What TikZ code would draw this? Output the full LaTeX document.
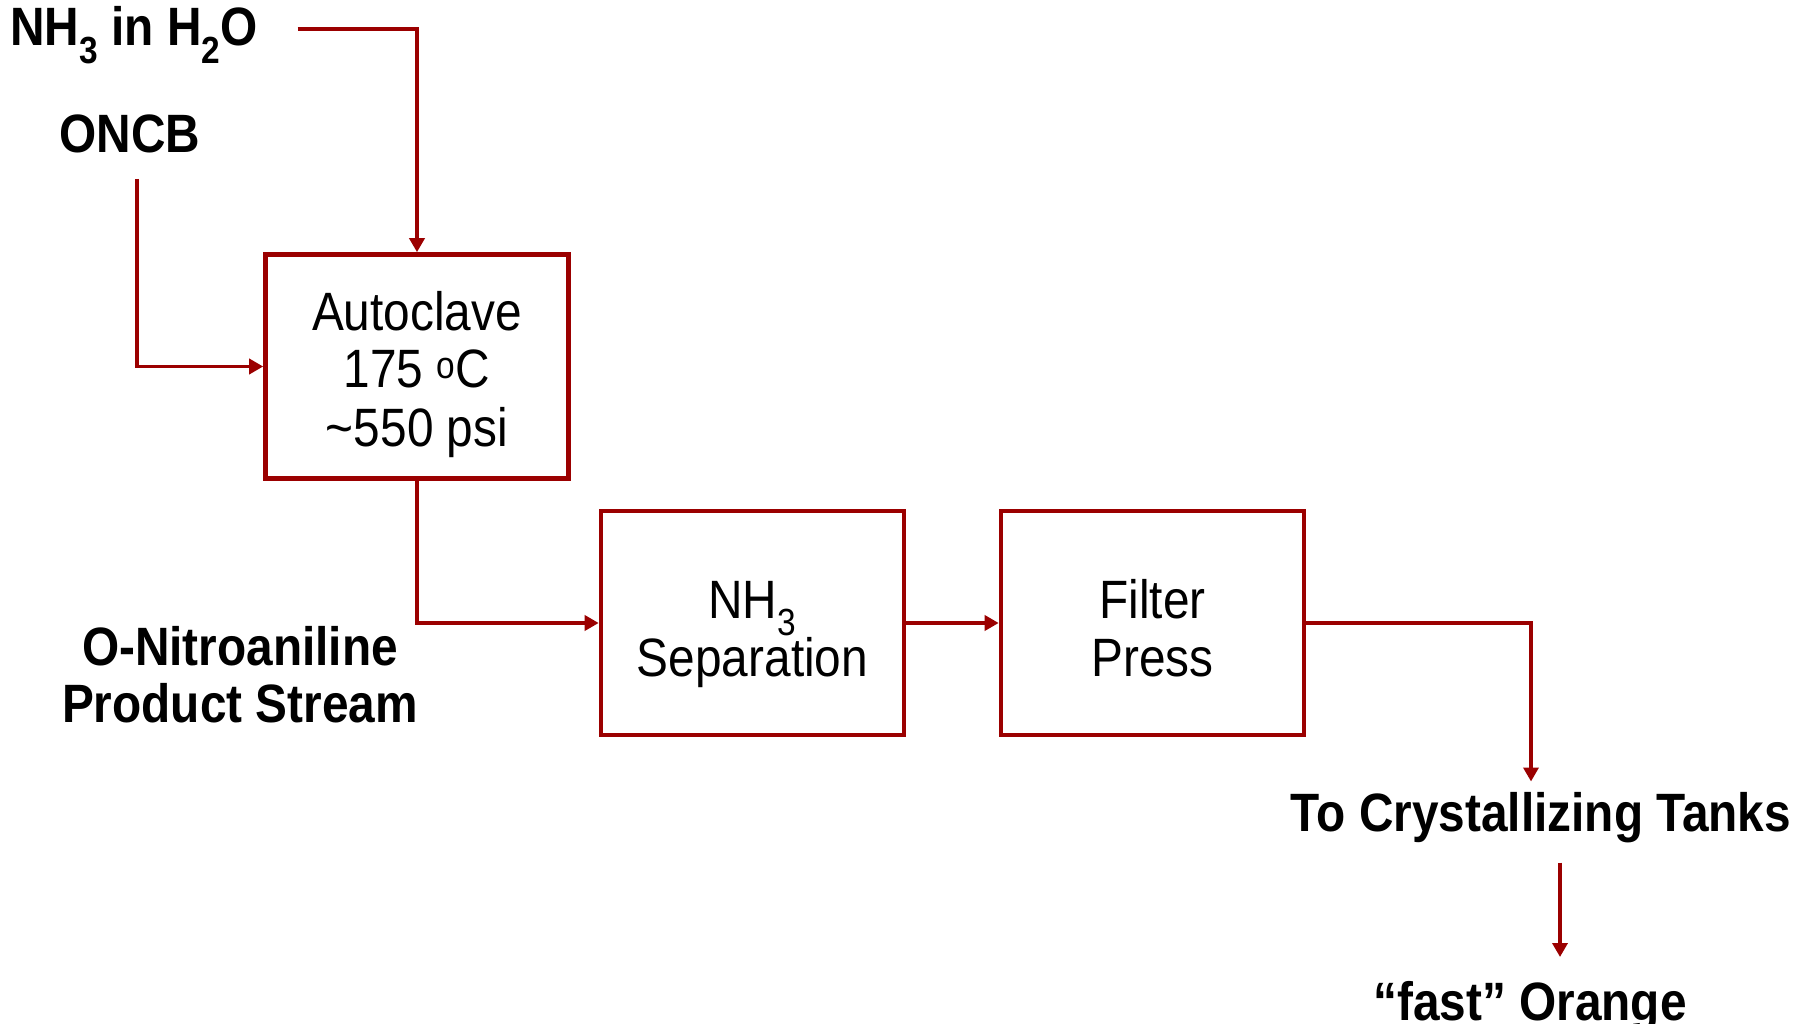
\documentclass[tikz,border=0pt]{standalone}
\usepackage{fontspec}
\setmainfont{Liberation Sans}[FakeStretch=0.885]
\usetikzlibrary{arrows.meta}
\definecolor{flowred}{RGB}{155,0,0}
\begin{document}
\begin{tikzpicture}[x=1pt,y=-1pt,
  unitbox/.style={draw=flowred,line width=4.6pt,minimum width=303pt,minimum height=224pt,inner sep=0pt},
  boxtext/.style={anchor=base,inner sep=0pt,align=center,font=\fontsize{54}{58}\selectfont},
  lbl/.style={anchor=base,inner sep=0pt,align=center,font=\fontsize{54}{57}\selectfont\bfseries},
  flow/.style={draw=flowred,line width=3.8pt,-{Triangle[width=15pt,length=14pt]}}]
\useasboundingbox (0,0) rectangle (1808,1024);
\node[unitbox] (auto) at (417,366.5) {};
\node[unitbox] (sep) at (752.5,623) {};
\node[unitbox] (filt) at (1152.5,623) {};
\node[boxtext] (autotxt) at (417,446) {Autoclave\\175 \textsuperscript{o}C\\\textasciitilde550 psi};
\node[boxtext] (septxt) at (752.5,676) {NH\textsubscript{3}\\Separation};
\node[boxtext] (filttxt) at (1152.5,676) {Filter\\Press};
\node[lbl] (nh3) at (134,46) {NH\textsubscript{3} in H\textsubscript{2}O};
\node[lbl] (oncb) at (130,153) {ONCB};
\node[lbl] (prod) at (240,722) {O-Nitroaniline\\Product Stream};
\node[lbl] (tanks) at (1541,831) {To Crystallizing Tanks};
\node[lbl] (orange) at (1530,1020) {“fast” Orange};
\coordinate (nh3s) at (297.5,29);
\coordinate (oncbs) at (137,179);
\coordinate (tanksin) at (1531,781.5);
\coordinate (tanksout) at (1560,862.5);
\coordinate (orangein) at (1560,957);
\draw[flow] (nh3s) -| (auto.north);
\draw[flow] (oncbs) |- (auto.west);
\draw[flow] (auto.south) |- (sep.west);
\draw[flow] (sep.east) -- (filt.west);
\draw[flow] (filt.east) -| (tanksin);
\draw[flow] (tanksout) -- (orangein);
\end{tikzpicture}
\end{document}
